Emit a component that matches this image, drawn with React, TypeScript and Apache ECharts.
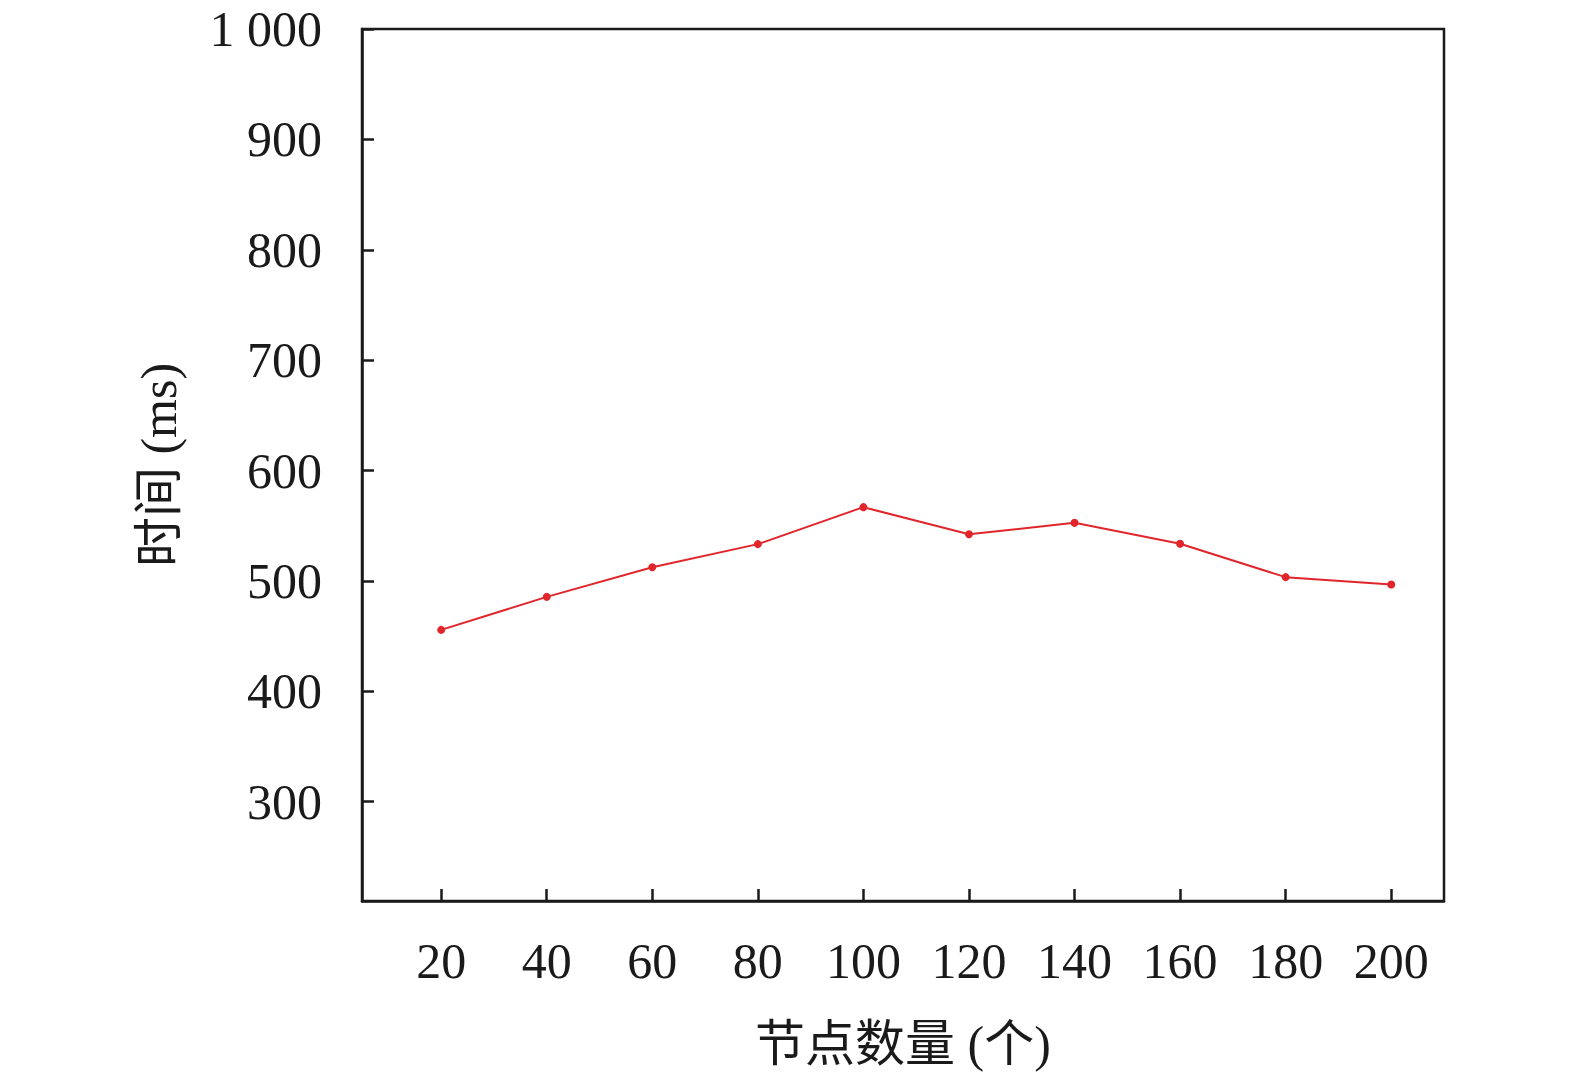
import React, { useEffect, useRef } from "react";
import * as echarts from "echarts";

const nodeCounts = [20, 40, 60, 80, 100, 120, 140, 160, 180, 200];
const timeValues = [455.6, 485.5, 512.4, 533.3, 566.8, 542.3, 552.6, 533.6, 503.4, 496.7];
const yTicks = [300, 400, 500, 600, 700, 800, 900, 1000];
const xName = "节点数量 (个)";
const yName = "时间 (ms)";

const FONT = "'Liberation Serif', 'Times New Roman', 'Noto Sans CJK SC', serif";

export default function App() {
  const ref = useRef<HTMLDivElement>(null);
  useEffect(() => {
    if (!ref.current) return;
    const chart = echarts.init(ref.current, undefined, { renderer: "svg" });
    chart.setOption({
      animation: false,
      backgroundColor: "#ffffff",
      grid: {
        left: 362,
        top: 29,
        right: 131,
        bottom: 178,
        show: true,
        borderColor: "#1a1a1a",
        borderWidth: 2.5,
        backgroundColor: "transparent",
      },
      xAxis: {
        type: "value",
        min: 5,
        max: 210,
        name: xName,
        nameLocation: "middle",
        nameGap: 118,
        nameTextStyle: { fontFamily: FONT, fontSize: 50, color: "#1a1a1a" },
        axisLine: { show: true, lineStyle: { color: "#1a1a1a", width: 2.5 } },
        axisTick: {
          show: true,
          inside: true,
          length: 12,
          customValues: nodeCounts,
          lineStyle: { color: "#1a1a1a", width: 2.5 },
        },
        axisLabel: {
          customValues: nodeCounts,
          margin: 35,
          fontFamily: FONT,
          fontSize: 50,
          color: "#1a1a1a",
        },
        splitLine: { show: false },
      },
      yAxis: {
        type: "value",
        min: 210,
        max: 1000,
        name: yName,
        nameLocation: "middle",
        nameGap: 178,
        nameTextStyle: { fontFamily: FONT, fontSize: 50, color: "#1a1a1a" },
        axisLine: { show: true, lineStyle: { color: "#1a1a1a", width: 2.5 } },
        axisTick: {
          show: true,
          inside: true,
          length: 12,
          customValues: yTicks,
          lineStyle: { color: "#1a1a1a", width: 2.5 },
        },
        axisLabel: {
          customValues: yTicks,
          margin: 40,
          fontFamily: FONT,
          fontSize: 50,
          color: "#1a1a1a",
          padding: [0, 0, 5, 0],
          formatter: (v: number) => (v === 1000 ? "1 000" : String(v)),
        },
        splitLine: { show: false },
      },
      series: [
        {
          type: "line",
          data: nodeCounts.map((x, i) => [x, timeValues[i]]),
          symbol: "circle",
          symbolSize: 8,
          lineStyle: { color: "#e0262b", width: 2 },
          itemStyle: { color: "#e0262b" },
        },
      ],
    });
    return () => chart.dispose();
  }, []);
  return (
    <div
      ref={ref}
      style={{ position: "fixed", left: 0, top: 0, width: 1575, height: 1079, background: "#fff" }}
    />
  );
}
